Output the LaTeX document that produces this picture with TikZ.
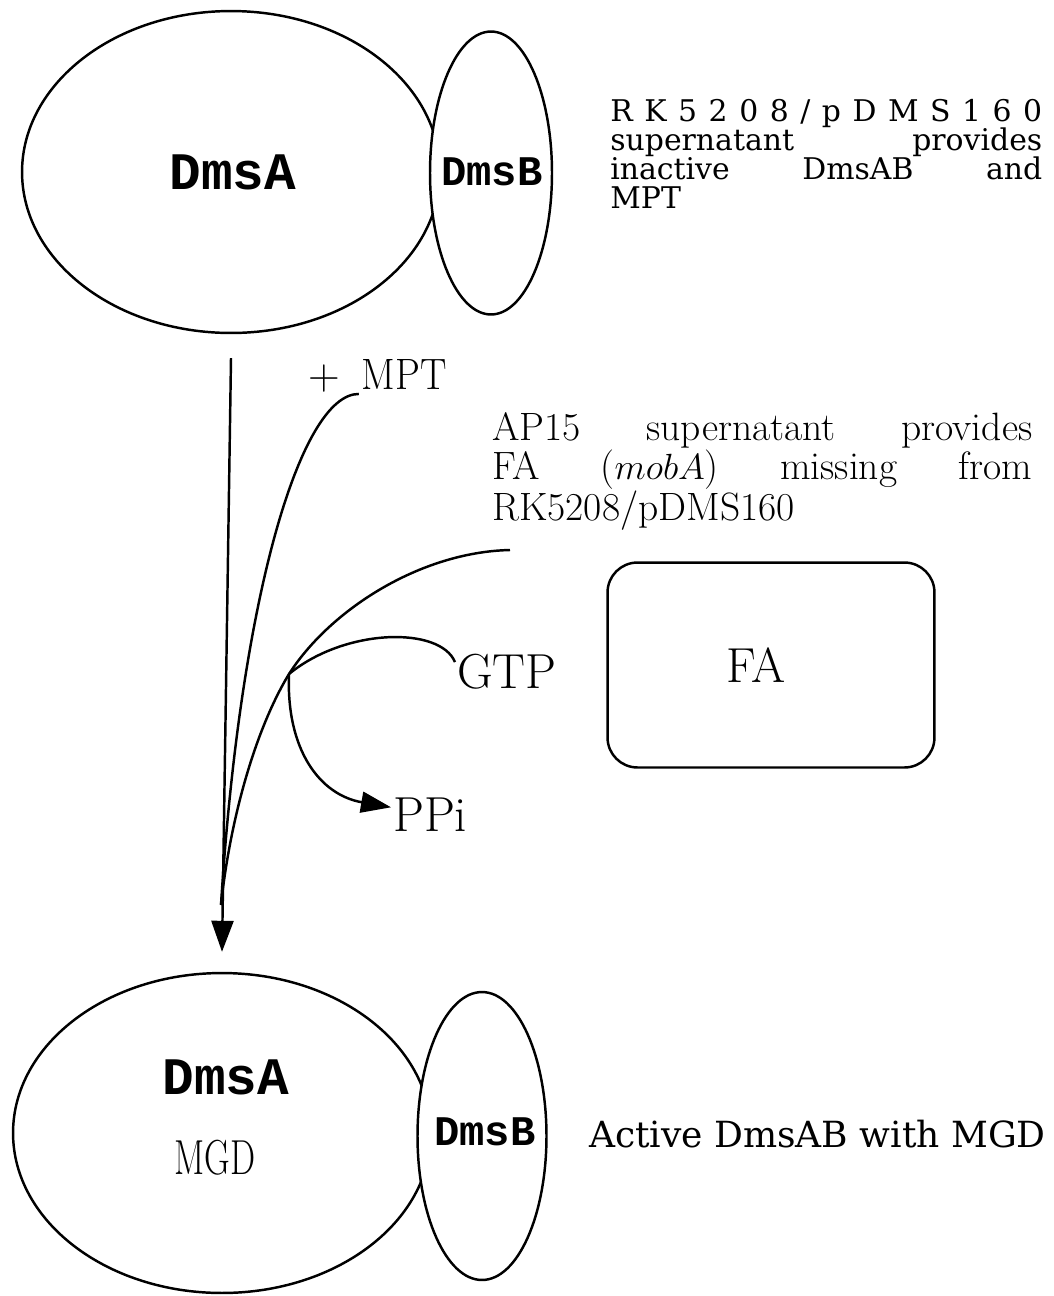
\documentclass[tikz,border=0pt]{standalone}
\usepackage{fontspec}
\newfontfamily\dmsfont{Liberation Mono}
\newfontfamily\notefont{DejaVu Serif}
\usetikzlibrary{shapes.geometric,arrows.meta}

\begin{document}
\begin{tikzpicture}[x=0.02cm,y=-0.02cm]
        \useasboundingbox (0,0) rectangle (1054,1296);
        \begin{scope}[every node/.style={draw, ellipse, line width=1.4pt, inner sep=0pt}]
                \node[minimum width=8.36cm, minimum height=6.44cm] (topA) at (231,172) {};
                \node[fill=white, minimum width=2.44cm, minimum height=5.66cm] (topB) at (491,173) {};
                \node[minimum width=8.36cm, minimum height=6.4cm] (botA) at (222,1133) {};
                \node[fill=white, minimum width=2.58cm, minimum height=5.76cm] (botB) at (482,1136) {};
        \end{scope}
        \begin{scope}[every node/.style={inner sep=1pt}]
                \node[font=\fontsize{30}{30}\selectfont\dmsfont\bfseries] (labA) at (233,172) {DmsA};
                \node[font=\fontsize{24}{24}\selectfont\dmsfont\bfseries] (labB) at (492,172) {DmsB};
                \node[font=\fontsize{30}{30}\selectfont\dmsfont\bfseries] (labA2) at (226,1077) {DmsA};
                \node[font=\fontsize{24}{24}\selectfont\dmsfont\bfseries] (labB2) at (485,1132) {DmsB};
                \node[font=\fontsize{28}{28}\selectfont] (mgd) at (215,1158) {\scalebox{0.72}[1]{MGD}};
                \node[anchor=north west, inner sep=0pt, font=\fontsize{17}{16.5}\selectfont\notefont] (inact) at (610,99)
                        {\parbox[t]{8.64cm}{\makebox[\linewidth][s]{R K 5 2 0 8 / p D M S 1 6 0}\\
                        \makebox[\linewidth][s]{supernatant provides}\\
                        \makebox[\linewidth][s]{inactive DmsAB and}\\
                        MPT}};
                \node[anchor=north west, inner sep=0pt, font=\fontsize{22.5}{19.8}\selectfont] (ap) at (492,412)
                        {\parbox[t]{10.8cm}{\makebox[\linewidth][s]{AP15 supernatant provides}\\
                        \makebox[\linewidth][s]{FA (\(mobA\)) missing from}\\
                        RK5208/pDMS160}};
                \node[anchor=base west, font=\fontsize{25}{25}\selectfont] (mpt) at (306,389) {+\enspace\scalebox{0.9}[1]{MPT}};
                \node[draw, rounded corners=0.6cm, line width=1.4pt, minimum width=6.54cm, minimum height=4.1cm,
                        font=\fontsize{28}{28}\selectfont] (fa) at (771,665) {FA\hspace*{0.6cm}};
                \node[anchor=base west, font=\fontsize{28}{28}\selectfont] (gtp) at (455,688) {GTP};
                \node[anchor=base west, font=\fontsize{28}{28}\selectfont] (ppi) at (391,831) {PPi};
                \node[anchor=base west, font=\fontsize{20.5}{20.5}\selectfont\notefont] (active) at (587,1147) {Active DmsAB with MGD};
        \end{scope}
        \coordinate (merge) at (221,905);
        \coordinate (jn) at (289,674);
        \coordinate (faend) at (510,550);
        \begin{scope}[every path/.style={line width=1.4pt}]
                \draw[-{Triangle[length=0.62cm,width=0.44cm]}] ([yshift=-0.48cm]topA.south) -- ([yshift=0.4cm]botA.north);
                \draw (mpt.-135) .. controls (300,394) and (240,600) .. (merge);
                \draw (faend) .. controls (420,552) and (330,610) .. (jn) .. controls (255,730) and (230,820) .. (merge);
                \draw (gtp.170) .. controls (440,626) and (345,628) .. (jn);
                \draw[-{Triangle[length=0.6cm,width=0.42cm]}] (jn) .. controls (286,750) and (320,795) .. (ppi.170);
        \end{scope}
\end{tikzpicture}
\end{document}
